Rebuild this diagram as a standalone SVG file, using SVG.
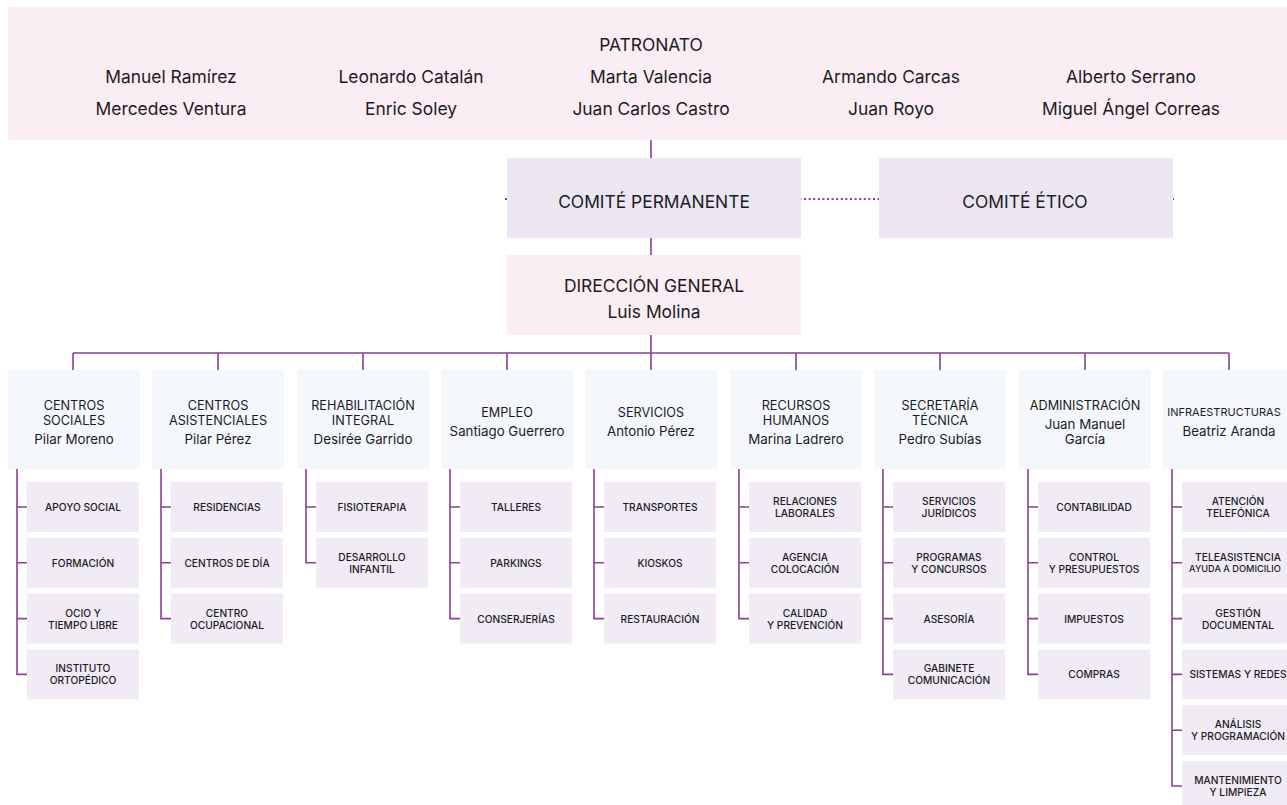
<svg xmlns="http://www.w3.org/2000/svg" width="1287" height="805" viewBox="0 0 1287 805">
<style>
text{font-family:Inter,"Noto Sans","DejaVu Sans",sans-serif;fill:#1b1b1f;text-anchor:middle;dominant-baseline:central}
.big{font-size:17.4px}
.dt{font-size:12.7px}
.dn{font-size:13.3px}
.st{font-size:10.2px;font-weight:500}
.pink{fill:#fbedf4}
.lav{fill:#ece6f3}
.dep{fill:#f4f8fc}
.sub{fill:#f1ebf5}
.ln{stroke:#8b3f99;stroke-width:1.6;fill:none}
.dot{stroke:#8b3f99;stroke-width:2.2;stroke-dasharray:2 2.6;fill:none}
</style>
<g id="connectors">
<line class="dot" x1="505" y1="199" x2="1175" y2="199"/>
<path class="ln" d="M651 140V158M651 238V255M651 335V353M73 353H1229M73 353V370M218 353V370M363 353V370M507 353V370M651 353V370M796 353V370M940 353V370M1085 353V370M1229 353V370"/>
<path class="ln" d="M17 469V674.4H27M17 507H27M17 562.8H27M17 618.6H27"/>
<path class="ln" d="M161 469V618.6H171M161 507H171M161 562.8H171"/>
<path class="ln" d="M306 469V562.8H316M306 507H316"/>
<path class="ln" d="M450 469V618.6H460M450 507H460M450 562.8H460"/>
<path class="ln" d="M594 469V618.6H604M594 507H604M594 562.8H604"/>
<path class="ln" d="M739 469V618.6H749M739 507H749M739 562.8H749"/>
<path class="ln" d="M883 469V674.4H893M883 507H893M883 562.8H893M883 618.6H893"/>
<path class="ln" d="M1028 469V674.4H1038M1028 507H1038M1028 562.8H1038M1028 618.6H1038"/>
<path class="ln" d="M1172 469V786H1182M1172 507H1182M1172 562.8H1182M1172 618.6H1182M1172 674.4H1182M1172 730.2H1182"/>
</g>
<g id="patronato">
<rect class="pink" x="8" y="7" width="1290" height="133"/>
<text class="big" x="651" y="44">PATRONATO</text>
<text class="big" x="171" y="76">Manuel Ramírez</text>
<text class="big" x="171" y="108">Mercedes Ventura</text>
<text class="big" x="411" y="76">Leonardo Catalán</text>
<text class="big" x="411" y="108">Enric Soley</text>
<text class="big" x="651" y="76">Marta Valencia</text>
<text class="big" x="651" y="108">Juan Carlos Castro</text>
<text class="big" x="891" y="76">Armando Carcas</text>
<text class="big" x="891" y="108">Juan Royo</text>
<text class="big" x="1131" y="76">Alberto Serrano</text>
<text class="big" x="1131" y="108">Miguel Ángel Correas</text>
</g>
<g id="comite-permanente">
<rect class="lav" x="507" y="158" width="294" height="80"/>
<text class="big" x="654" y="201.5">COMITÉ PERMANENTE</text>
</g>
<g id="comite-etico">
<rect class="lav" x="879" y="158" width="294" height="80"/>
<text class="big" x="1025" y="201.5">COMITÉ ÉTICO</text>
</g>
<g id="direccion-general">
<rect class="pink" x="507" y="255" width="294" height="80"/>
<text class="big" x="654" y="285.5">DIRECCIÓN GENERAL</text>
<text class="big" x="654" y="311">Luis Molina</text>
</g>
<g id="centros-sociales">
<rect class="dep" x="8" y="370" width="132" height="99"/>
<text class="dt" x="74" y="405">CENTROS</text>
<text class="dt" x="74" y="420">SOCIALES</text>
<text class="dn" x="74" y="439">Pilar Moreno</text>
<rect class="sub" x="27" y="482" width="112" height="50"/><text class="st" x="83" y="507">APOYO SOCIAL</text>
<rect class="sub" x="27" y="537.8" width="112" height="50"/><text class="st" x="83" y="562.8">FORMACIÓN</text>
<rect class="sub" x="27" y="593.6" width="112" height="50"/><text class="st" x="83" y="612.6">OCIO Y</text><text class="st" x="83" y="624.6">TIEMPO LIBRE</text>
<rect class="sub" x="27" y="649.4" width="112" height="50"/><text class="st" x="83" y="668.4">INSTITUTO</text><text class="st" x="83" y="680.4">ORTOPÉDICO</text>
</g>
<g id="centros-asistenciales">
<rect class="dep" x="152" y="370" width="132" height="99"/>
<text class="dt" x="218" y="405">CENTROS</text>
<text class="dt" x="218" y="420">ASISTENCIALES</text>
<text class="dn" x="218" y="439">Pilar Pérez</text>
<rect class="sub" x="171" y="482" width="112" height="50"/><text class="st" x="227" y="507">RESIDENCIAS</text>
<rect class="sub" x="171" y="537.8" width="112" height="50"/><text class="st" x="227" y="562.8">CENTROS DE DÍA</text>
<rect class="sub" x="171" y="593.6" width="112" height="50"/><text class="st" x="227" y="612.6">CENTRO</text><text class="st" x="227" y="624.6">OCUPACIONAL</text>
</g>
<g id="rehabilitacion-integral">
<rect class="dep" x="297" y="370" width="132" height="99"/>
<text class="dt" x="363" y="405">REHABILITACIÓN</text>
<text class="dt" x="363" y="420">INTEGRAL</text>
<text class="dn" x="363" y="439">Desirée Garrido</text>
<rect class="sub" x="316" y="482" width="112" height="50"/><text class="st" x="372" y="507">FISIOTERAPIA</text>
<rect class="sub" x="316" y="537.8" width="112" height="50"/><text class="st" x="372" y="556.8">DESARROLLO</text><text class="st" x="372" y="568.8">INFANTIL</text>
</g>
<g id="empleo">
<rect class="dep" x="441" y="370" width="132" height="99"/>
<text class="dt" x="507" y="412">EMPLEO</text>
<text class="dn" x="507" y="431">Santiago Guerrero</text>
<rect class="sub" x="460" y="482" width="112" height="50"/><text class="st" x="516" y="507">TALLERES</text>
<rect class="sub" x="460" y="537.8" width="112" height="50"/><text class="st" x="516" y="562.8">PARKINGS</text>
<rect class="sub" x="460" y="593.6" width="112" height="50"/><text class="st" x="516" y="618.6">CONSERJERÍAS</text>
</g>
<g id="servicios">
<rect class="dep" x="585" y="370" width="132" height="99"/>
<text class="dt" x="651" y="412">SERVICIOS</text>
<text class="dn" x="651" y="431">Antonio Pérez</text>
<rect class="sub" x="604" y="482" width="112" height="50"/><text class="st" x="660" y="507">TRANSPORTES</text>
<rect class="sub" x="604" y="537.8" width="112" height="50"/><text class="st" x="660" y="562.8">KIOSKOS</text>
<rect class="sub" x="604" y="593.6" width="112" height="50"/><text class="st" x="660" y="618.6">RESTAURACIÓN</text>
</g>
<g id="recursos-humanos">
<rect class="dep" x="730" y="370" width="132" height="99"/>
<text class="dt" x="796" y="405">RECURSOS</text>
<text class="dt" x="796" y="420">HUMANOS</text>
<text class="dn" x="796" y="439">Marina Ladrero</text>
<rect class="sub" x="749" y="482" width="112" height="50"/><text class="st" x="805" y="501">RELACIONES</text><text class="st" x="805" y="513">LABORALES</text>
<rect class="sub" x="749" y="537.8" width="112" height="50"/><text class="st" x="805" y="556.8">AGENCIA</text><text class="st" x="805" y="568.8">COLOCACIÓN</text>
<rect class="sub" x="749" y="593.6" width="112" height="50"/><text class="st" x="805" y="612.6">CALIDAD</text><text class="st" x="805" y="624.6">Y PREVENCIÓN</text>
</g>
<g id="secretaria-tecnica">
<rect class="dep" x="874" y="370" width="132" height="99"/>
<text class="dt" x="940" y="405">SECRETARÍA</text>
<text class="dt" x="940" y="420">TÉCNICA</text>
<text class="dn" x="940" y="439">Pedro Subías</text>
<rect class="sub" x="893" y="482" width="112" height="50"/><text class="st" x="949" y="501">SERVICIOS</text><text class="st" x="949" y="513">JURÍDICOS</text>
<rect class="sub" x="893" y="537.8" width="112" height="50"/><text class="st" x="949" y="556.8">PROGRAMAS</text><text class="st" x="949" y="568.8">Y CONCURSOS</text>
<rect class="sub" x="893" y="593.6" width="112" height="50"/><text class="st" x="949" y="618.6">ASESORÍA</text>
<rect class="sub" x="893" y="649.4" width="112" height="50"/><text class="st" x="949" y="668.4">GABINETE</text><text class="st" x="949" y="680.4">COMUNICACIÓN</text>
</g>
<g id="administracion">
<rect class="dep" x="1019" y="370" width="132" height="99"/>
<text class="dt" x="1085" y="405">ADMINISTRACIÓN</text>
<text class="dn" x="1085" y="423.5">Juan Manuel</text>
<text class="dn" x="1085" y="439">García</text>
<rect class="sub" x="1038" y="482" width="112" height="50"/><text class="st" x="1094" y="507">CONTABILIDAD</text>
<rect class="sub" x="1038" y="537.8" width="112" height="50"/><text class="st" x="1094" y="556.8">CONTROL</text><text class="st" x="1094" y="568.8">Y PRESUPUESTOS</text>
<rect class="sub" x="1038" y="593.6" width="112" height="50"/><text class="st" x="1094" y="618.6">IMPUESTOS</text>
<rect class="sub" x="1038" y="649.4" width="112" height="50"/><text class="st" x="1094" y="674.4">COMPRAS</text>
</g>
<g id="infraestructuras">
<rect class="dep" x="1163" y="370" width="132" height="99"/>
<text class="dt" x="1224" y="412" style="font-size:11px">INFRAESTRUCTURAS</text>
<text class="dn" x="1229" y="431">Beatriz Aranda</text>
<rect class="sub" x="1182" y="482" width="112" height="50"/><text class="st" x="1238" y="501">ATENCIÓN</text><text class="st" x="1238" y="513">TELEFÓNICA</text>
<rect class="sub" x="1182" y="537.8" width="112" height="50"/><text class="st" x="1238" y="556.8">TELEASISTENCIA</text><text class="st" x="1235" y="568.8" style="font-size:9.2px">AYUDA A DOMICILIO</text>
<rect class="sub" x="1182" y="593.6" width="112" height="50"/><text class="st" x="1238" y="612.6">GESTIÓN</text><text class="st" x="1238" y="624.6">DOCUMENTAL</text>
<rect class="sub" x="1182" y="649.4" width="112" height="50"/><text class="st" x="1238" y="674.4">SISTEMAS Y REDES</text>
<rect class="sub" x="1182" y="705.2" width="112" height="50"/><text class="st" x="1238" y="724.2">ANÁLISIS</text><text class="st" x="1238" y="736.2">Y PROGRAMACIÓN</text>
<rect class="sub" x="1182" y="761" width="112" height="50"/><text class="st" x="1238" y="780">MANTENIMIENTO</text><text class="st" x="1238" y="792">Y LIMPIEZA</text>
</g>
</svg>
